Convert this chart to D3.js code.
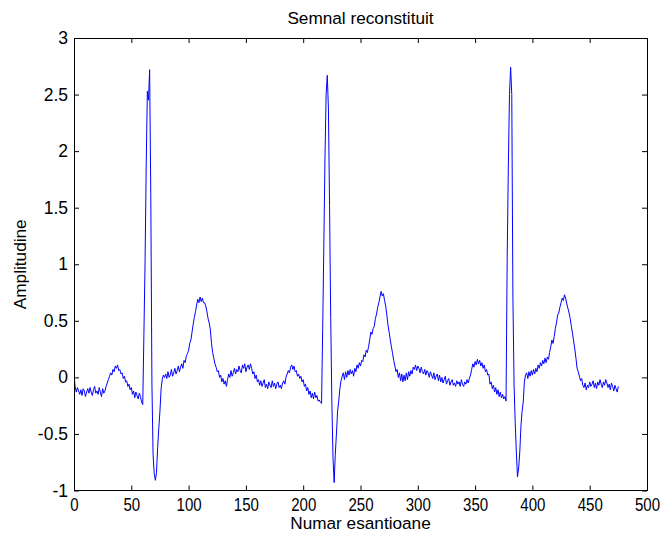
<!DOCTYPE html>
<html>
<head>
<meta charset="utf-8">
<script src="https://cdn.jsdelivr.net/npm/d3@7"></script>
<style>
  html, body { margin: 0; padding: 0; background: #fff; }
  svg { display: block; }
  text { font-family: "Liberation Sans", Arial, Helvetica, sans-serif; fill: #000; }
</style>
</head>
<body>
<svg id="chart" width="662" height="538"></svg>
<script>
// ---- data ----
const chartTitle = "Semnal reconstituit";
const xLabel = "Numar esantioane";
const yLabel = "Amplitudine";
const xTicks = [0, 50, 100, 150, 200, 250, 300, 350, 400, 450, 500];
const yTicks = [-1, -0.5, 0, 0.5, 1, 1.5, 2, 2.5, 3];
const yTickLabels = ["-1", "-0.5", "0", "0.5", "1", "1.5", "2", "2.5", "3"];
const amplitude = [
  0.02, -0.08, -0.13, -0.09, -0.12, -0.15, -0.11, -0.16, -0.10, -0.12,
  -0.17, -0.13, -0.10, -0.14, -0.09, -0.13, -0.16, -0.11, -0.08, -0.14,
  -0.12, -0.15, -0.09, -0.13, -0.17, -0.10, -0.14, -0.12, -0.08, -0.05,
  -0.02, 0.01, 0.04, 0.02, 0.07, 0.05, 0.10, 0.08, 0.11, 0.06,
  0.07, 0.03, 0.04, -0.01, 0.01, -0.04, -0.03, -0.08, -0.06, -0.11,
  -0.09, -0.15, -0.12, -0.18, -0.13, -0.16, -0.19, -0.14, -0.17, -0.22,
  -0.24, 0.38, 1.01, 1.86, 2.53, 2.45, 2.72, 1.61, -0.06, -0.68,
  -0.85, -0.91, -0.84, -0.62, -0.45, -0.30, -0.10, -0.02, 0.02, 0.00,
  0.03, -0.01, 0.05, 0.00, 0.02, 0.07, 0.01, 0.04, 0.08, 0.03,
  0.06, 0.10, 0.05, 0.09, 0.12, 0.08, 0.15, 0.13, 0.19, 0.21,
  0.24, 0.30, 0.33, 0.40, 0.47, 0.53, 0.58, 0.64, 0.69, 0.66,
  0.71, 0.67, 0.70, 0.66, 0.66, 0.63, 0.58, 0.52, 0.48, 0.42,
  0.30, 0.22, 0.17, 0.12, 0.09, 0.05, 0.06, 0.00, 0.02, -0.04,
  -0.01, -0.06, -0.03, -0.08, -0.02, 0.03, 0.00, 0.06, 0.01, 0.04,
  0.08, 0.03, 0.07, 0.05, 0.10, 0.06, 0.04, 0.11, 0.08, 0.12,
  0.05, 0.09, 0.11, 0.07, 0.12, 0.08, 0.03, 0.05, -0.01, 0.02,
  -0.04, -0.02, -0.07, -0.03, -0.08, -0.05, -0.02, -0.09, -0.06, -0.10,
  -0.04, -0.07, -0.09, -0.03, -0.08, -0.05, -0.10, -0.06, -0.04, -0.09,
  -0.07, -0.10, -0.05, -0.03, -0.06, 0.00, 0.03, 0.06, 0.04, 0.09,
  0.11, 0.07, 0.10, 0.05, 0.06, 0.01, 0.03, -0.01, 0.01, -0.04,
  -0.02, -0.08, -0.06, -0.12, -0.09, -0.15, -0.12, -0.18, -0.14, -0.19,
  -0.13, -0.18, -0.16, -0.21, -0.20, -0.22, -0.23, 0.42, 1.16, 1.94,
  2.50, 2.67, 2.38, 1.52, 0.53, -0.22, -0.71, -0.93, -0.68, -0.50,
  -0.30, -0.21, -0.10, -0.03, 0.01, 0.04, -0.02, 0.05, 0.00, 0.06,
  0.02, 0.07, 0.03, 0.06, 0.01, 0.08, 0.05, 0.11, 0.08, 0.13,
  0.10, 0.15, 0.14, 0.20, 0.18, 0.24, 0.22, 0.27, 0.33, 0.40,
  0.38, 0.43, 0.45, 0.52, 0.56, 0.62, 0.66, 0.71, 0.76, 0.72,
  0.74, 0.68, 0.63, 0.55, 0.46, 0.40, 0.33, 0.27, 0.21, 0.15,
  0.10, 0.05, 0.07, 0.00, 0.04, -0.03, 0.03, -0.04, 0.02, -0.03,
  0.04, -0.02, 0.05, 0.01, 0.06, 0.03, 0.09, 0.07, 0.11, 0.06,
  0.10, 0.08, 0.04, 0.09, 0.05, 0.03, 0.07, 0.02, 0.06, 0.04,
  0.00, 0.05, 0.02, -0.01, 0.04, -0.02, 0.01, 0.03, -0.03, 0.02,
  -0.04, 0.00, -0.05, -0.02, 0.01, -0.06, -0.03, -0.01, -0.07, -0.04,
  -0.02, -0.07, -0.05, -0.08, -0.03, -0.06, -0.04, -0.08, -0.02, -0.06,
  -0.08, -0.04, -0.06, -0.02, -0.05, -0.01, 0.02, 0.07, 0.12, 0.09,
  0.14, 0.11, 0.16, 0.12, 0.15, 0.10, 0.13, 0.08, 0.11, 0.05,
  0.07, 0.02, 0.03, -0.06, -0.04, -0.10, -0.07, -0.13, -0.09, -0.15,
  -0.11, -0.17, -0.13, -0.18, -0.15, -0.19, -0.17, -0.21, 1.06, 1.86,
  2.50, 2.74, 2.50, 0.70, -0.06, -0.40, -0.66, -0.88, -0.80, -0.66,
  -0.43, -0.30, -0.22, -0.04, 0.02, 0.04, -0.01, 0.05, 0.01, 0.06,
  0.02, 0.07, 0.03, 0.08, 0.05, 0.11, 0.08, 0.13, 0.10, 0.15,
  0.12, 0.17, 0.13, 0.18, 0.16, 0.22, 0.27, 0.33, 0.30, 0.36,
  0.43, 0.48, 0.55, 0.57, 0.62, 0.66, 0.70, 0.68, 0.73, 0.70,
  0.65, 0.61, 0.57, 0.52, 0.45, 0.39, 0.32, 0.25, 0.17, 0.08,
  0.05, 0.01, -0.03, -0.01, -0.07, -0.09, -0.05, -0.11, -0.07, -0.09,
  -0.04, -0.08, -0.06, -0.03, -0.09, -0.05, -0.10, -0.04, -0.07, -0.02,
  -0.06, -0.09, -0.04, -0.07, -0.02, -0.05, -0.09, -0.06, -0.11, -0.05,
  -0.08, -0.12, -0.07, -0.10, -0.13, -0.08
];

// ---- layout ----
const W = 662, H = 538;
const plot = { left: 74, right: 647, top: 38, bottom: 490.5 };
const tickFont = 17.5, labelFont = 17.2;

const svg = d3.select("#chart");
svg.append("rect").attr("width", W).attr("height", H).attr("fill", "#fff");

const x = d3.scaleLinear().domain([0, 500]).range([plot.left, plot.right]);
const y = d3.scaleLinear().domain([-1, 3]).range([plot.bottom, plot.top]);

svg.append("defs").append("clipPath").attr("id", "clip")
  .append("rect")
  .attr("x", plot.left).attr("y", plot.top)
  .attr("width", plot.right - plot.left).attr("height", plot.bottom - plot.top);

// signal
const line = d3.line().x((d, i) => x(i)).y(d => y(d));
svg.append("path")
  .datum(amplitude)
  .attr("clip-path", "url(#clip)")
  .attr("fill", "none")
  .attr("stroke", "#0000ff")
  .attr("stroke-width", 1)
  .attr("stroke-linejoin", "round")
  .attr("d", line);

// axes (ticks pointing inward, MATLAB style)
const tickLen = 5;
const gx = svg.append("g").attr("transform", `translate(0,${plot.bottom})`)
  .call(d3.axisBottom(x).tickValues(xTicks).tickFormat(d3.format("d"))
    .tickSizeInner(-tickLen).tickSizeOuter(0).tickPadding(8));
const gxTop = svg.append("g").attr("transform", `translate(0,${plot.top})`)
  .call(d3.axisTop(x).tickValues(xTicks).tickFormat("")
    .tickSizeInner(-tickLen).tickSizeOuter(0));
const gy = svg.append("g").attr("transform", `translate(${plot.left},0)`)
  .call(d3.axisLeft(y).tickValues(yTicks).tickFormat((d, i) => yTickLabels[i])
    .tickSizeInner(-tickLen).tickSizeOuter(0).tickPadding(6));
const gyRight = svg.append("g").attr("transform", `translate(${plot.right},0)`)
  .call(d3.axisRight(y).tickValues(yTicks).tickFormat("")
    .tickSizeInner(-tickLen).tickSizeOuter(0));

[gx, gxTop, gy, gyRight].forEach(g => {
  g.select(".domain").remove();
  g.selectAll(".tick line").attr("stroke", "#000");
  g.selectAll("text").attr("font-size", tickFont)
    .attr("font-family", '"Liberation Sans", Arial, Helvetica, sans-serif')
    .attr("fill", "#000");
});
// x tick digits are a little narrower in the reference
gx.selectAll(".tick text").attr("transform", "scale(0.86,1)");

// box
svg.append("rect")
  .attr("x", plot.left).attr("y", plot.top)
  .attr("width", plot.right - plot.left).attr("height", plot.bottom - plot.top)
  .attr("fill", "none").attr("stroke", "#000").attr("stroke-width", 1)
  .attr("shape-rendering", "crispEdges");

// titles
const cx = (plot.left + plot.right) / 2;
svg.append("text").attr("x", cx).attr("y", 24)
  .attr("text-anchor", "middle").attr("font-size", labelFont).text(chartTitle);
svg.append("text").attr("x", cx).attr("y", 529)
  .attr("text-anchor", "middle").attr("font-size", labelFont).text(xLabel);
svg.append("text")
  .attr("transform", `translate(26,${(plot.top + plot.bottom) / 2}) rotate(-90)`)
  .attr("text-anchor", "middle").attr("font-size", labelFont).text(yLabel);
</script>
</body>
</html>
